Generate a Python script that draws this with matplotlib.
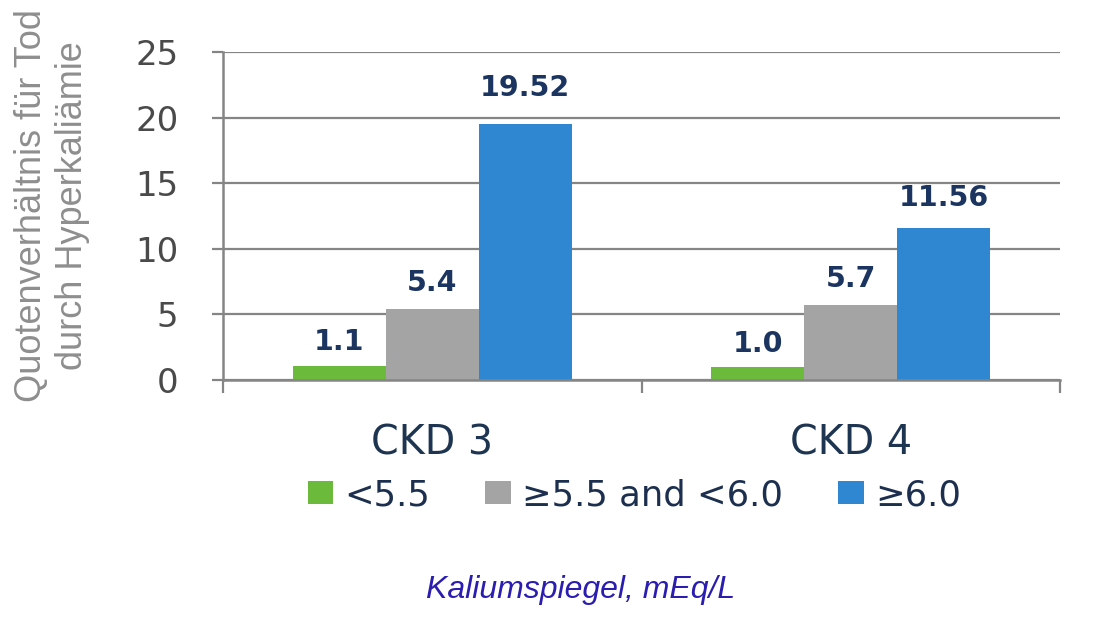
import matplotlib
matplotlib.use("Agg")
import matplotlib.pyplot as plt
import numpy as np
from matplotlib.patches import Patch

categories = ["CKD 3", "CKD 4"]
series_names = ["<5.5", "≥5.5 and <6.0", "≥6.0"]
values_lt55 = [1.1, 1.0]
values_55_60 = [5.4, 5.7]
values_ge60 = [19.52, 11.56]
value_labels = [["1.1", "1.0"], ["5.4", "5.7"], ["19.52", "11.56"]]
yticks = [0, 5, 10, 15, 20, 25]

colors = ["#6cba3c", "#a4a4a4", "#2f87d1"]
axis_gray = "#858585"
label_navy = "#1b3560"

fig = plt.figure(figsize=(11.05, 6.18), dpi=100, facecolor="white")
ax = fig.add_axes([0.2018, 0.3851, 0.7575, 0.5308])

x = np.arange(len(categories))
width = 0.222
series = [values_lt55, values_55_60, values_ge60]
for i, (vals, col) in enumerate(zip(series, colors)):
    pos = x + (i - 1) * width
    ax.bar(pos, vals, width=width, color=col, zorder=3, label=series_names[i])
    for p, v, t in zip(pos, vals, value_labels[i]):
        ax.annotate(t, (p, v), xytext=(0, 6 + 0.5 * v), textcoords="offset points",
                    ha="center", va="bottom", fontsize=20.5, fontweight="bold",
                    color=label_navy, family="DejaVu Sans")

ax.set_xlim(-0.5, 1.5)
ax.set_ylim(0, 25)
ax.set_yticks(yticks)
ax.yaxis.grid(True, color=axis_gray, linewidth=1.6, zorder=0)
ax.set_axisbelow(True)

for s in ["top", "right"]:
    ax.spines[s].set_visible(False)
for s in ["left", "bottom"]:
    ax.spines[s].set_color(axis_gray)
    ax.spines[s].set_linewidth(1.8)
    ax.spines[s].set_zorder(4)

ax.tick_params(axis="y", direction="out", length=8, width=1.6, color=axis_gray,
               labelsize=24.5, labelcolor="#4a4a4a", pad=24)
ax.set_xticks(x)
ax.set_xticklabels(categories)
ax.set_xticks([-0.5, 0.5, 1.5], minor=True)
ax.tick_params(axis="x", which="major", length=0, labelsize=28.5, labelcolor="#1d3550", pad=31)
ax.tick_params(axis="x", which="minor", direction="out", length=9, width=1.6, color=axis_gray)

fig.text(0.047, 0.668, "Quotenverhältnis für Tod\ndurch Hyperkaliämie", rotation=90,
         ha="center", va="center", multialignment="center", fontsize=26,
         color="#8e8e8e", family="Liberation Sans", linespacing=1.2)

fig.text(0.525, 0.0324, "Kaliumspiegel, mEq/L", ha="center", va="baseline",
         fontsize=23, style="italic", color="#2b1db0", family="Liberation Sans")

handles = [Patch(facecolor=c, edgecolor="none") for c in colors]
fig.legend(handles, series_names, loc="center", bbox_to_anchor=(0.574, 0.199), ncol=3,
           frameon=False, fontsize=25.5, labelcolor="#1c2f4f", handlelength=0.72,
           handleheight=0.63, handletextpad=0.32, columnspacing=1.55)

fig.savefig("out.png", dpi=100, facecolor="white")
